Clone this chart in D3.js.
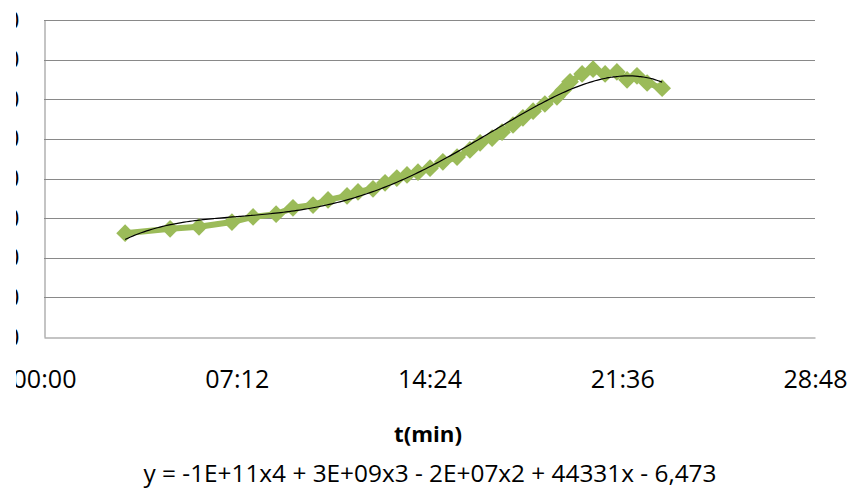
<!DOCTYPE html>
<html><head><meta charset="utf-8">
<script src="https://cdn.jsdelivr.net/npm/d3@7"></script>
<style>body{margin:0;background:#fff}svg{display:block}</style>
</head><body>
<svg id="c" width="851" height="494"></svg>
<script>
// time in minutes
const timesMin = [3.03,4.71,5.79,7.02,7.81,8.67,9.30,10.05,10.61,11.32,11.73,12.29,12.74,13.18,13.56,13.97,14.42,14.90,15.43,15.91,16.29,16.74,17.11,17.52,17.89,18.27,18.71,19.16,19.39,19.65,20.10,20.51,20.96,21.40,21.78,22.15,22.53,23.09];
const values   = [26.2,27.3,27.8,29.0,30.3,31.0,32.6,33.3,34.6,35.6,36.6,37.4,38.9,40.1,40.9,41.6,42.6,44.2,45.4,47.2,49.0,50.2,51.7,53.5,55.3,57.0,58.8,60.6,62.3,64.4,66.4,67.6,66.4,66.9,64.9,65.9,64.1,62.8];
const xTicks = [0,7.2,14.4,21.6,28.8];
const yTicks = [0,10,20,30,40,50,60,70,80];
const xTitle = "t(min)";
const equation = "y = -1E+11x4 + 3E+09x3 - 2E+07x2 + 44331x - 6,473";

const svg = d3.select("#c");
const x = d3.scaleLinear().domain([0,28.8]).range([44,815]);
const y = d3.scaleLinear().domain([0,80]).range([337,20]);
const font = "'Open Sans', sans-serif";
const grid = "#898989";
const green = "#9BBB59";

function fmt(m){const mm=Math.floor(m+1e-9), ss=Math.round((m-mm)*60);return String(mm).padStart(2,"0")+":"+String(ss).padStart(2,"0");}
function fit(t, target){const w=t.node().getComputedTextLength();const fs=+t.attr("font-size");t.attr("font-size",fs*target/w);}

// gridlines
svg.append("g").selectAll("line").data(yTicks.slice(1)).join("line")
  .attr("x1",x(0)).attr("x2",x(28.8)).attr("y1",d=>Math.round(y(d))+0.5).attr("y2",d=>Math.round(y(d))+0.5)
  .attr("stroke",grid).attr("stroke-width",1);

// axes
const yAxis = svg.append("g").attr("transform",`translate(${Math.round(x(0))+0.5},0)`)
  .call(d3.axisLeft(y).tickValues(yTicks).tickSize(0).tickPadding(25).tickFormat(d=>String(d)));
yAxis.select(".domain").attr("stroke",grid);
yAxis.selectAll("text").attr("font-family",font).attr("font-size",25).attr("fill","#000");

const xAxis = svg.append("g").attr("transform",`translate(0,${Math.round(y(0))+0.5})`)
  .call(d3.axisBottom(x).tickValues(xTicks).tickSize(0).tickPadding(30).tickFormat(fmt));
xAxis.select(".domain").attr("stroke",grid);
xAxis.selectAll("text").attr("font-family",font).attr("font-size",25).attr("fill","#000").attr("dy",0);
xAxis.selectAll("text").each(function(){fit(d3.select(this),64);});
xAxis.selectAll("text").attr("y",50);

// data
const pts = timesMin.map((t,i)=>[t,values[i]]);
svg.append("path").datum(pts)
  .attr("d",d3.line().x(d=>x(d[0])).y(d=>y(d[1])))
  .attr("fill","none").attr("stroke",green).attr("stroke-width",6).attr("stroke-linejoin","round");
svg.append("g").selectAll("path").data(pts).join("path")
  .attr("transform",d=>`translate(${x(d[0])},${y(d[1])})`)
  .attr("d",d3.symbol(d3.symbolDiamond2,200))
  .attr("fill",green);

// polynomial trendline (degree 4 least squares)
function polyfit(xs,ys,deg){
  const mx=d3.mean(xs), sx=d3.deviation(xs);
  const xn=xs.map(v=>(v-mx)/sx), n=deg+1;
  const A=Array.from({length:n},()=>new Array(n+1).fill(0));
  xn.forEach((xv,k)=>{for(let i=0;i<n;i++){for(let j=0;j<n;j++)A[i][j]+=Math.pow(xv,i+j);A[i][n]+=ys[k]*Math.pow(xv,i);}});
  for(let i=0;i<n;i++){let p=i;for(let r=i+1;r<n;r++)if(Math.abs(A[r][i])>Math.abs(A[p][i]))p=r;[A[i],A[p]]=[A[p],A[i]];
    for(let r=0;r<n;r++){if(r===i)continue;const f=A[r][i]/A[i][i];for(let c=i;c<=n;c++)A[r][c]-=f*A[i][c];}}
  const c=A.map((row,i)=>row[n]/row[i]);
  return v=>{const t=(v-mx)/sx;return c.reduce((s,ci,i)=>s+ci*Math.pow(t,i),0);};
}
const f = polyfit(timesMin,values,4);
const x0=d3.min(timesMin), x1=d3.max(timesMin);
const trend = d3.range(0,201).map(i=>{const t=x0+(x1-x0)*i/200;return [t,f(t)];});
svg.append("path").datum(trend)
  .attr("d",d3.line().x(d=>x(d[0])).y(d=>y(d[1])).curve(d3.curveBasis))
  .attr("fill","none").attr("stroke","#000").attr("stroke-width",1.2);

// titles
const tt = svg.append("text").attr("x",428).attr("y",442).attr("text-anchor","middle")
  .attr("font-family",font).attr("font-weight","bold").attr("font-size",23).text(xTitle);
fit(tt,68);
const eq = svg.append("text").attr("x",430).attr("y",482).attr("text-anchor","middle")
  .attr("font-family",font).attr("font-size",21).attr("fill","#000").text(equation);
fit(eq,573);

// left crop margin (the reference image is cropped here)
svg.append("rect").attr("x",0).attr("y",0).attr("width",16).attr("height",494).attr("fill","#fff");
</script>
</body></html>
